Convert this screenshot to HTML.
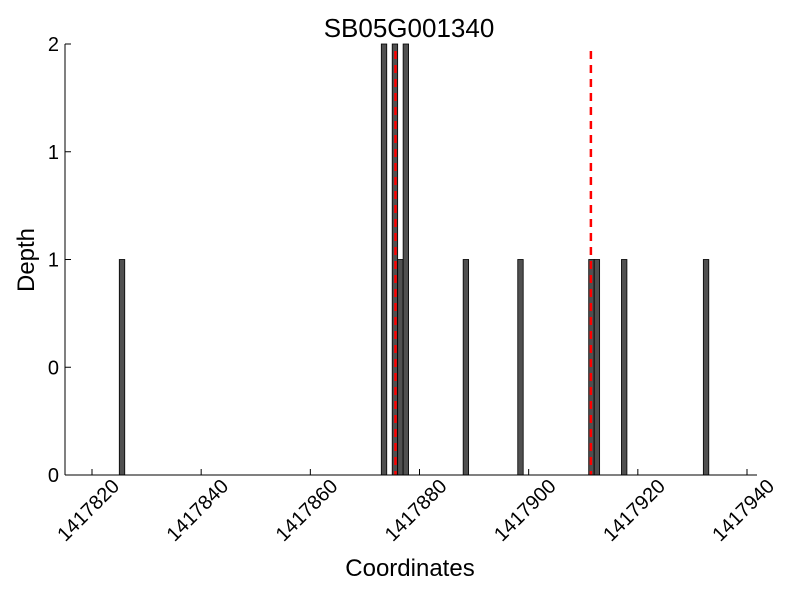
<!DOCTYPE html>
<html><head><meta charset="utf-8">
<style>
html,body{margin:0;padding:0;background:#fff;}
svg{display:block;font-family:"Liberation Sans",sans-serif;}
</style></head>
<body>
<svg id="chart" width="800" height="600" viewBox="0 0 800 600">
  <rect width="800" height="600" fill="#fff"/>
  <text x="409" y="37" font-size="26" text-anchor="middle">SB05G001340</text>
  <text transform="translate(34,260) rotate(-90)" font-size="24" text-anchor="middle">Depth</text>
  <text x="410" y="576" font-size="24" text-anchor="middle">Coordinates</text>
  <g id="marks"></g>
</svg>
<script>
const positions = [1417825, 1417873, 1417875, 1417876, 1417877, 1417888, 1417898, 1417911, 1417912, 1417917, 1417932];
const depths = [1, 2, 2, 1, 2, 1, 1, 1, 1, 1, 1];
const markerLines = [1417875.6, 1417911.4];
const xTicks = [1417820, 1417840, 1417860, 1417880, 1417900, 1417920, 1417940];
const yTicks = [0, 0.5, 1, 1.5, 2];
const yTickLabels = ['0', '0', '1', '1', '2'];

const NS = 'http://www.w3.org/2000/svg';
const g = document.getElementById('marks');
const X0 = 65, X1 = 757, Y0 = 475, Y1 = 44;
function xs(v){ return 92 + (v - 1417820) * (655 / 120); }
function ys(v){ return Y0 - (v / 2) * (Y0 - Y1); }
function mk(tag, attrs){ const e = document.createElementNS(NS, tag); for (const k in attrs) e.setAttribute(k, attrs[k]); g.appendChild(e); return e; }

positions.forEach((p, i) => {
  const x = xs(p), w = xs(p + 1) - x;
  const r = mk('rect', {x: x, y: ys(depths[i]), width: w, height: Y0 - ys(depths[i]), fill: '#505050', stroke: '#000', 'stroke-width': 0.8});
  
  
});
markerLines.forEach(m => {
  const l = mk('line', {x1: xs(m), x2: xs(m), y1: 51, y2: Y0, stroke: '#ff0000', 'stroke-width': 2.5, 'stroke-dasharray': '8,6'});
  
  
});
let ax = mk('line', {x1: X0, x2: X0, y1: Y1, y2: Y0, stroke: '#000', 'stroke-width': 1});


ax = mk('line', {x1: X0, x2: X1, y1: Y0, y2: Y0, stroke: '#000', 'stroke-width': 1});


yTicks.forEach((t, i) => {
  const y = ys(t);
  const tk = mk('line', {x1: X0, x2: X0 + 6, y1: y, y2: y, stroke: '#000'});
  
  
  const tx = mk('text', {x: 59, y: y + 7, 'font-size': 20, 'text-anchor': 'end'});
  tx.textContent = yTickLabels[i];
  
  
});
xTicks.forEach(t => {
  const x = xs(t);
  const tk = mk('line', {x1: x, x2: x, y1: Y0, y2: Y0 - 6, stroke: '#000'});
  
  
  const tx = mk('text', {'font-size': 20, 'text-anchor': 'middle', transform: 'translate(' + (x - 4) + ',' + (Y0 + 35) + ') rotate(-45)', dy: 7});
  tx.textContent = String(t);
  
  
});
</script>
</body></html>
